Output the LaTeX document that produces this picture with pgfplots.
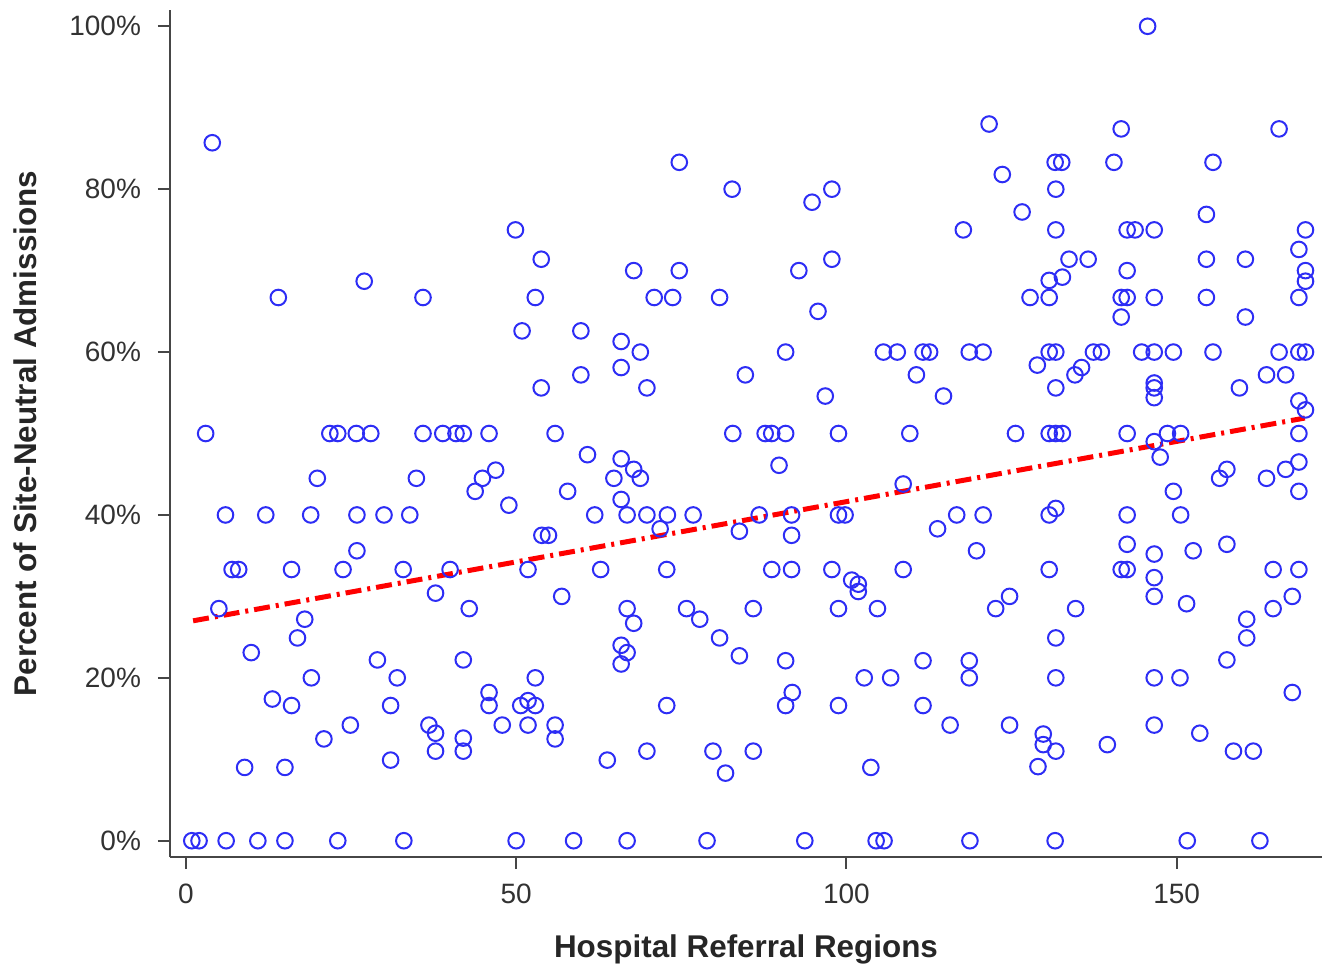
\documentclass[border=0pt]{standalone}
\usepackage{pgfplots}
\pgfplotsset{compat=1.18}
\usepackage{pgfplotstable}
\usepackage{fontspec}
\setmainfont{Liberation Sans}
\definecolor{ptblue}{RGB}{45,45,245}
\definecolor{axgray}{RGB}{70,70,70}
\definecolor{lblgray}{RGB}{50,50,50}
\pgfplotstableread{
x y
0.9 0
2.0 0
6.1 0
10.9 0
15.0 0
23.0 0
33.0 0
50.0 0
58.7 0
66.8 0
78.9 0
93.7 0
104.5 0
105.7 0
118.7 0
131.6 0
151.6 0
162.6 0
4.0 85.7
14.0 66.7
27.0 68.7
35.9 66.7
74.7 83.3
82.7 80.0
49.9 75.0
53.8 71.4
67.8 70.0
74.7 70.0
52.9 66.7
70.9 66.7
73.7 66.7
80.8 66.7
121.6 88.0
123.6 81.8
126.6 77.2
117.7 75.0
94.8 78.4
97.8 80.0
92.8 70.0
97.8 71.4
127.8 66.7
145.6 100
141.6 87.4
165.5 87.4
131.6 83.3
132.6 83.3
140.5 83.3
155.5 83.3
131.7 80.0
154.5 76.9
131.7 75.0
142.5 75.0
143.7 75.0
146.6 75.0
169.5 75.0
133.7 71.4
136.6 71.4
154.5 71.4
160.4 71.4
168.5 72.6
142.5 70.0
169.5 70.0
169.5 68.7
130.7 68.8
132.7 69.2
130.7 66.7
141.6 66.7
142.5 66.7
146.6 66.7
154.5 66.7
168.5 66.7
3.0 50
21.8 50
23.0 50
25.8 50
28.0 50
35.9 50
38.9 50
40.9 50
42.0 50
19.9 44.5
34.9 44.5
6.0 40
12.1 40
18.9 40
25.9 40
30.0 40
33.9 40
25.9 35.6
7.0 33.3
8.0 33.3
16.0 33.3
23.8 33.3
32.9 33.3
40.0 33.3
50.9 62.6
59.8 62.6
65.9 61.3
68.8 60.0
59.8 57.2
65.9 58.1
53.8 55.6
69.8 55.6
84.7 57.2
45.9 50
55.9 50
82.8 50
60.8 47.4
65.9 46.9
67.8 45.6
68.8 44.5
64.8 44.5
46.9 45.5
44.9 44.5
43.8 42.9
57.8 42.9
48.9 41.2
65.9 41.9
61.9 40
66.8 40
69.8 40
72.9 40
76.8 40
71.8 38.3
83.8 38.0
53.9 37.5
54.9 37.5
51.8 33.3
62.8 33.3
72.8 33.3
95.7 65.0
90.8 60
105.6 60
107.7 60
111.6 60
112.6 60
118.6 60
120.7 60
110.6 57.2
128.9 58.4
96.8 54.6
114.7 54.6
87.7 50
88.7 50
90.8 50
98.8 50
109.6 50
125.6 50
89.8 46.1
108.6 43.8
86.8 40
91.7 40
98.8 40
99.8 40
116.7 40
120.7 40
91.7 37.5
113.8 38.3
119.7 35.6
88.7 33.3
91.7 33.3
97.8 33.3
108.6 33.3
100.8 32.0
101.8 31.5
101.8 30.6
141.6 64.3
160.4 64.3
130.7 60
131.7 60
137.4 60
138.6 60
144.7 60
146.6 60
149.5 60
155.5 60
165.5 60
168.5 60
169.5 60
134.6 57.2
135.6 58.1
163.6 57.2
166.5 57.2
131.7 55.6
146.6 56.2
146.6 55.6
146.6 54.4
159.5 55.6
168.5 54.0
169.5 52.9
130.7 50
131.7 50
132.7 50
142.5 50
148.6 50
150.6 50
168.5 50
146.6 49.0
147.5 47.1
157.6 45.6
156.5 44.5
163.6 44.5
166.5 45.6
168.5 46.5
168.5 42.9
149.5 42.9
131.7 40.8
130.7 40.0
142.5 40
150.6 40
142.5 36.4
146.6 35.2
152.5 35.6
157.6 36.4
130.7 33.3
141.6 33.3
142.5 33.3
146.6 32.3
164.6 33.3
168.5 33.3
146.6 30.0
151.5 29.1
134.7 28.5
131.7 24.9
131.7 20.0
146.6 20
150.5 20
160.6 27.2
160.6 24.9
164.6 28.5
167.5 30.0
157.6 22.2
167.5 18.2
129.8 13.1
129.8 11.8
131.7 11.0
129.0 9.1
139.5 11.8
146.6 14.2
153.5 13.2
158.6 11.0
161.6 11.0
85.9 28.5
98.8 28.5
104.7 28.5
122.6 28.5
124.7 30.0
90.8 22.1
111.6 22.1
118.6 22.1
118.6 20.0
102.7 20
106.7 20
91.8 18.2
90.8 16.6
98.8 16.6
111.6 16.6
115.7 14.2
124.7 14.2
85.9 11.0
103.7 9.0
56.9 30.0
42.9 28.5
66.8 28.5
67.8 26.7
75.8 28.5
77.8 27.2
80.8 24.9
83.8 22.7
65.9 24.0
66.8 23.1
65.9 21.7
42.0 22.2
52.9 20
45.9 18.2
45.9 16.6
50.7 16.6
51.8 17.2
52.9 16.6
47.9 14.2
51.8 14.2
55.9 14.2
55.9 12.5
72.8 16.6
42.0 12.6
42.0 11.0
63.8 9.9
69.8 11.0
79.8 11.0
81.7 8.3
5.0 28.5
37.8 30.4
18.0 27.2
16.9 24.9
9.9 23.1
29.0 22.2
32.0 20.0
19.0 20
13.1 17.4
16.0 16.6
31.0 16.6
24.9 14.2
20.9 12.5
36.8 14.2
37.8 13.2
37.8 11.0
31.0 9.9
8.9 9.0
15.0 9.0
}\pts
\begin{document}
\begin{tikzpicture}
\begin{axis}[
  name=ax,
  width=576pt, height=423.5pt, scale only axis,
  xmin=-2.4, xmax=172, ymin=-2, ymax=102,
  axis lines=left,
  axis line style={-, axgray, line width=1pt},
  tick style={axgray, line width=1pt},
  tick align=outside,
  major tick length=6pt,
  xtick={0,50,100,150},
  ytick={0,20,40,60,80,100},
  yticklabel={\pgfmathprintnumber{\tick}\%},
  /pgf/number format/assume math mode=true,
  ticklabel style={font=\fontsize{14}{16}\selectfont, text=lblgray},
  yticklabel style={xshift=-5pt},
  xticklabel style={yshift=-4pt},
  every axis x label/.style={at={(axis description cs:0.5,0)}, anchor=center, yshift=-46pt},
  every axis y label/.style={at={(axis description cs:0,0.5)}, anchor=center, xshift=-72.5pt, rotate=90},
  label style={font=\fontsize{15.7}{18}\selectfont\bfseries, text=black!85},
  xlabel={Hospital Referral Regions},
  ylabel={Percent of Site-Neutral Admissions},
  clip=false,
]
\addplot[only marks, mark=o, draw=ptblue, mark size=3.9pt, mark options={line width=1pt}] table[x=x,y=y] {\pts};
\addplot[red, line width=2.5pt, dash pattern=on 8pt off 3pt on 1.5pt off 3pt] coordinates {(1.1,27.0) (169.4,51.9)};
\end{axis}
\pgfresetboundingbox
\path[use as bounding box] ([shift={(-85pt,-54.5pt)}]ax.south west) rectangle ([shift={(3pt,5pt)}]ax.north east);
\end{tikzpicture}
\end{document}
